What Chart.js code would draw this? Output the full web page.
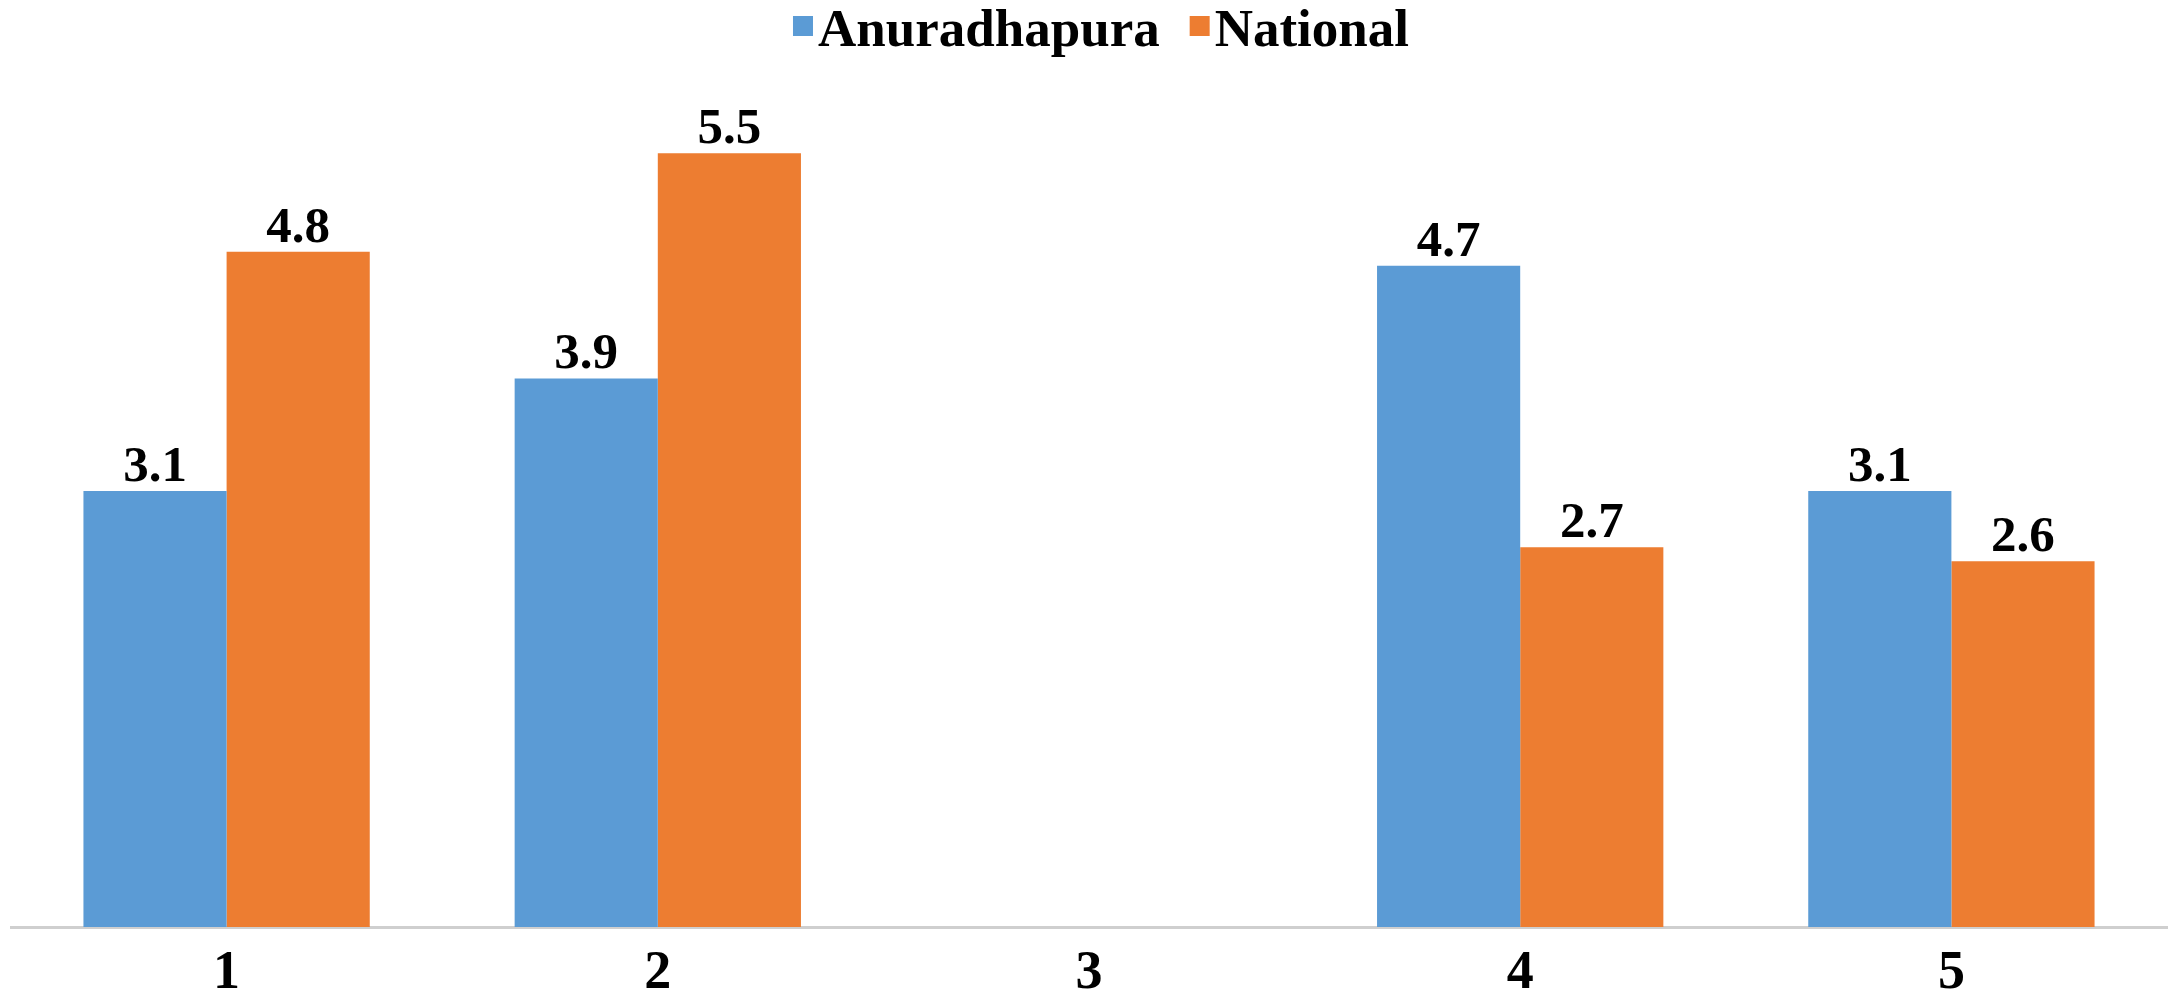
<!DOCTYPE html>
<html>
<head>
<meta charset="utf-8">
<script src="https://cdn.jsdelivr.net/npm/chart.js@4.4.0/dist/chart.umd.min.js"></script>
<style>
  html, body { margin: 0; padding: 0; background: #fff; }
  #wrap { width: 2177px; height: 994px; }
</style>
</head>
<body>
<div id="wrap"><canvas id="chart" width="2177" height="994"></canvas></div>
<script>
// chart values
const categories = ["1", "2", "3", "4", "5"];
const anuradhapura = [3.1, 3.9, null, 4.7, 3.1];
const national = [4.8, 5.5, null, 2.7, 2.6];
const seriesNames = ["Anuradhapura", "National"];

const blue = "#5B9BD5";
const orange = "#ED7D31";
const serif = "'Liberation Serif', 'Times New Roman', serif";

// value above each bar
const valueLabels = {
  id: "valueLabels",
  afterDatasetsDraw(chart) {
    const ctx = chart.ctx;
    ctx.save();
    ctx.font = "bold 51px " + serif;
    ctx.fillStyle = "#000";
    ctx.textAlign = "center";
    ctx.textBaseline = "alphabetic";
    chart.data.datasets.forEach((ds, i) => {
      const meta = chart.getDatasetMeta(i);
      meta.data.forEach((bar, j) => {
        if (ds.data[j] == null) return;
        ctx.fillText(ds.data[j].toFixed(1), bar.x, bar.y - 10);
      });
    });
    ctx.restore();
  }
};

// legend drawn by hand so the square sits close to its text
const topLegend = {
  id: "topLegend",
  afterDraw(chart) {
    const ctx = chart.ctx;
    const sq = 20, gap = 5, itemGap = 30;
    ctx.save();
    ctx.font = "bold 53px " + serif;
    const items = chart.data.datasets.map((ds) => ({
      text: ds.label,
      color: ds.backgroundColor,
      w: ctx.measureText(ds.label).width,
    }));
    let total = 0;
    items.forEach((it, i) => {
      total += sq + gap + it.w + (i < items.length - 1 ? itemGap : 0);
    });
    const center = (chart.chartArea.left + chart.chartArea.right) / 2 + 12;
    let x = center - total / 2;
    const baseY = 46;
    ctx.textAlign = "left";
    ctx.textBaseline = "alphabetic";
    items.forEach((it) => {
      ctx.fillStyle = it.color;
      ctx.fillRect(x, 16, sq, sq);
      x += sq + gap;
      ctx.fillStyle = "#000";
      ctx.fillText(it.text, x, baseY);
      x += it.w + itemGap;
    });
    ctx.restore();
  }
};

const data = {
  labels: categories,
  datasets: [
    {
      label: seriesNames[0],
      data: anuradhapura,
      backgroundColor: blue,
      borderWidth: 0,
    },
    {
      label: seriesNames[1],
      data: national,
      backgroundColor: orange,
      borderWidth: 0,
    },
  ],
};

const config = {
  type: "bar",
  data,
  plugins: [valueLabels, topLegend],
  options: {
    responsive: false,
    animation: false,
    layout: { padding: { left: 11, right: 10, top: 83, bottom: 0 } },
    datasets: {
      bar: { categoryPercentage: 0.664, barPercentage: 1.0 },
    },
    plugins: {
      tooltip: { enabled: false },
      legend: { display: false },
    },
    scales: {
      x: {
        grid: { display: false, drawTicks: false },
        border: { display: true, color: "#CFCFCF", width: 3 },
        ticks: {
          color: "#000",
          padding: 20,
          font: { family: serif, size: 54, weight: "bold", lineHeight: 1 },
        },
        afterFit(scale) {
          scale.height = 67;
        },
      },
      y: {
        display: false,
        min: 0,
        max: 6,
      },
    },
  },
};

let myChart = new Chart(document.getElementById("chart"), config);
</script>
</body>
</html>
